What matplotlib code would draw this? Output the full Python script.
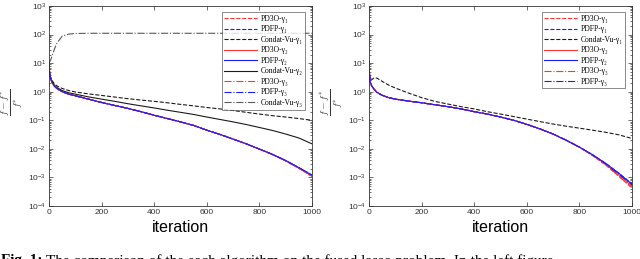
import matplotlib
matplotlib.use("Agg")
import matplotlib.pyplot as plt
from matplotlib.ticker import LogLocator, NullFormatter, FixedLocator

plt.rcParams['mathtext.fontset'] = 'cm'

it = [0, 2, 5, 10, 20, 30, 50, 75, 100, 150, 200, 250, 300, 350, 400, 450,
      500, 550, 600, 650, 700, 750, 800, 850, 900, 950, 1000]

# ---- left panel ----
L_pd3o = [10, 5, 3.2, 2.3, 1.6, 1.3, 1.0, 0.82, 0.72, 0.55, 0.42, 0.33, 0.26,
          0.2, 0.15, 0.115, 0.088, 0.066, 0.045, 0.032, 0.022, 0.015, 0.0098,
          0.0063, 0.0038, 0.0021, 0.0011]
L_pdfp = [10, 5, 3.2, 2.3, 1.6, 1.3, 1.0, 0.82, 0.72, 0.55, 0.42, 0.33, 0.26,
          0.2, 0.15, 0.115, 0.088, 0.066, 0.045, 0.032, 0.022, 0.015, 0.0098,
          0.0064, 0.0039, 0.0022, 0.0012]
L_cv1 = [10, 5, 3.4, 2.6, 1.9, 1.6, 1.3, 1.1, 0.98, 0.84, 0.74, 0.65, 0.57,
         0.51, 0.46, 0.41, 0.36, 0.32, 0.28, 0.25, 0.22, 0.19, 0.165, 0.145,
         0.13, 0.115, 0.1]
L_cv2 = [10, 5, 3.3, 2.4, 1.7, 1.4, 1.1, 0.92, 0.82, 0.66, 0.55, 0.46, 0.38,
         0.32, 0.27, 0.225, 0.19, 0.16, 0.13, 0.107, 0.088, 0.071, 0.056,
         0.044, 0.033, 0.024, 0.015]
L_cv3 = [10, 11, 12, 16, 30, 50, 88, 104, 109, 111, 111, 111, 111, 111, 111,
         111, 111, 111, 111, 111, 111, 111, 111, 111, 111, 111, 111]

# ---- right panel ----
R_pd3o1 = [12, 4, 2.2, 1.6, 1.2, 0.95, 0.75, 0.62, 0.55, 0.47, 0.41, 0.35, 0.3,
           0.25, 0.2, 0.165, 0.13, 0.1, 0.072, 0.05, 0.033, 0.02, 0.0115,
           0.0058, 0.0027, 0.0011, 0.00042]
R_pdfp1 = [12, 4, 2.2, 1.6, 1.2, 0.95, 0.75, 0.62, 0.55, 0.47, 0.41, 0.35, 0.3,
           0.25, 0.2, 0.165, 0.13, 0.1, 0.072, 0.05, 0.033, 0.02, 0.0115,
           0.0062, 0.0031, 0.0014, 0.0006]
R_cv1 = [10, 4, 2.5, 2.6, 3.1, 3.0, 2.3, 1.7, 1.35, 0.9, 0.62, 0.46, 0.37, 0.3,
         0.25, 0.2, 0.165, 0.135, 0.11, 0.09, 0.074, 0.062, 0.053, 0.045,
         0.038, 0.031, 0.023]
R_pd3o2 = [12, 4, 2.2, 1.6, 1.2, 0.95, 0.75, 0.62, 0.55, 0.47, 0.41, 0.35, 0.3,
           0.25, 0.2, 0.165, 0.13, 0.1, 0.072, 0.05, 0.033, 0.02, 0.0115,
           0.006, 0.0029, 0.0012, 0.0005]
R_pdfp2 = [12, 4, 2.2, 1.6, 1.2, 0.95, 0.75, 0.62, 0.55, 0.47, 0.41, 0.35, 0.3,
           0.25, 0.2, 0.165, 0.13, 0.1, 0.072, 0.05, 0.033, 0.02, 0.0115,
           0.0062, 0.0031, 0.0014, 0.00058]
R_pd3o3 = [12, 4, 2.2, 1.6, 1.2, 0.95, 0.75, 0.62, 0.55, 0.47, 0.41, 0.35, 0.3,
           0.25, 0.2, 0.165, 0.13, 0.1, 0.072, 0.05, 0.033, 0.02, 0.0115,
           0.0059, 0.0028, 0.0011, 0.00045]
R_pdfp3 = [12, 4, 2.2, 1.6, 1.2, 0.95, 0.75, 0.62, 0.55, 0.47, 0.41, 0.35, 0.3,
           0.25, 0.2, 0.165, 0.13, 0.1, 0.072, 0.05, 0.033, 0.02, 0.0115,
           0.0062, 0.003, 0.0013, 0.00055]

xticks = [0, 200, 400, 600, 800, 1000]
ydecades = [-4, -3, -2, -1, 0, 1, 2, 3]

RED = (1.0, 0.2, 0.2)
BLUE = (0.1, 0.1, 1.0)
BLK = (0.1, 0.1, 0.1)
lw = 0.8

left_series = [
    (L_pd3o, 'PD3O-γ₁', RED, '--'),
    (L_pdfp, 'PDFP-γ₁', BLUE, '--'),
    (L_cv1, 'Condat-Vu-γ₁', BLK, '--'),
    (L_pd3o, 'PD3O-γ₂', RED, '-'),
    (L_pdfp, 'PDFP-γ₂', BLUE, '-'),
    (L_cv2, 'Condat-Vu-γ₂', BLK, '-'),
    (L_pd3o, 'PD3O-γ₃', RED, '-.'),
    (L_pdfp, 'PDFP-γ₃', BLUE, '-.'),
    (L_cv3, 'Condat-Vu-γ₃', (0.35, 0.35, 0.35), '-.'),
]
right_series = [
    (R_pd3o1, 'PD3O-γ₁', RED, '--'),
    (R_pdfp1, 'PDFP-γ₁', BLUE, '--'),
    (R_cv1, 'Condat-Vu-γ₁', BLK, '--'),
    (R_pd3o2, 'PD3O-γ₂', RED, '-'),
    (R_pdfp2, 'PDFP-γ₂', BLUE, '-'),
    (R_pd3o3, 'PD3O-γ₃', RED, '-.'),
    (R_pdfp3, 'PDFP-γ₃', BLUE, '-.'),
]

fig = plt.figure(figsize=(6.4, 2.59), dpi=100)
ax1 = fig.add_axes([49/640, 1-206/259, 263/640, 200/259])
ax2 = fig.add_axes([369/640, 1-206/259, 263/640, 200/259])

for ax, series, x0 in [(ax1, left_series, 12), (ax2, right_series, 332)]:
    for y, lab, c, ls in series:
        ax.plot(it, y, color=c, ls=ls, lw=lw, label=lab)
    ax.set_yscale('log')
    ax.set_xlim(0, 1000)
    ax.set_ylim(1e-4, 1e3)
    ax.xaxis.set_major_locator(FixedLocator(xticks))
    ax.yaxis.set_major_locator(FixedLocator([10.0**d for d in ydecades]))
    ax.yaxis.set_minor_locator(LogLocator(base=10, subs=range(2, 10), numticks=20))
    ax.yaxis.set_minor_formatter(NullFormatter())
    ax.tick_params(which='both', direction='in', top=True, right=True,
                   width=0.5, color='#333333')
    ax.tick_params(which='major', length=3, labelsize=6, pad=2)
    ax.tick_params(which='minor', length=1.6)
    for lbl in ax.get_xticklabels() + ax.get_yticklabels():
        lbl.set_family('Liberation Sans')
        lbl.set_color('#333333')
    for sp in ax.spines.values():
        sp.set_linewidth(0.6)
        sp.set_color('#333333')
    ax.set_xlabel('iteration', fontsize=11.5, family='Liberation Sans',
                  labelpad=3)
    fig.text(x0/640, 1-102/259, r'$\frac{f-f^{*}}{f^{*}}$', fontsize=10,
             color='#333333', rotation=90, ha='center', va='center')
    leg = ax.legend(loc='upper right', bbox_to_anchor=(0.975, 0.97),
                    prop={'family': ['Liberation Serif', 'DejaVu Serif'],
                          'size': 5.5},
                    frameon=True, fancybox=False, edgecolor='#333333',
                    handlelength=4.3, handletextpad=0.5, borderpad=0.35,
                    labelspacing=0.33, borderaxespad=0)
    leg.get_frame().set_linewidth(0.5)

fig.text(0.002, 1-254/259,
         'Fig. 1:', fontsize=11, family='Liberation Serif', weight='bold',
         va='top', ha='left')
fig.text(0.072, 1-254/259,
         'The comparison of the each algorithm on the fused lasso problem. In the left figure',
         fontsize=11, family='Liberation Serif', va='top', ha='left')

fig.savefig('out.png', dpi=100)
